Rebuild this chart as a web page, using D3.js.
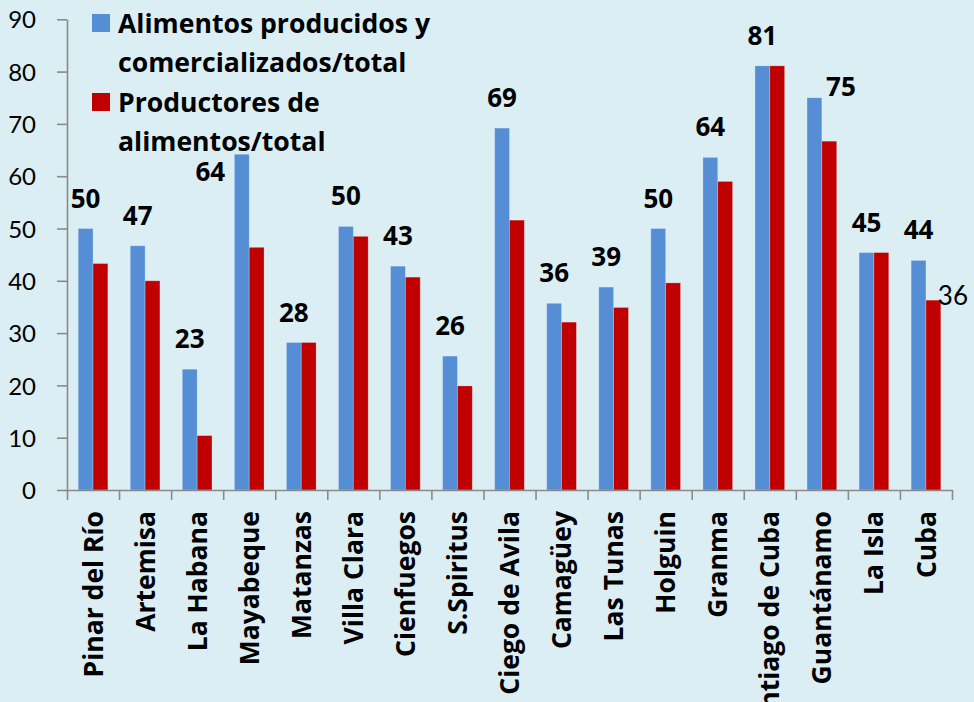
<!DOCTYPE html>
<html>
<head>
<meta charset="utf-8">
<script src="https://cdn.jsdelivr.net/npm/d3@7"></script>
<style>
  html, body { margin: 0; padding: 0; background: #DBEEF4; }
  svg { display: block; }
</style>
</head>
<body>
<svg id="chart" width="974" height="702"></svg>
<script>
// ---- data ----
const categories = ["Pinar del Río", "Artemisa", "La Habana", "Mayabeque", "Matanzas", "Villa Clara",
  "Cienfuegos", "S.Spiritus", "Ciego de Avila", "Camagüey", "Las Tunas", "Holguin", "Granma",
  "Santiago de Cuba", "Guantánamo", "La Isla", "Cuba"];
const seriesNames = ["Alimentos producidos y comercializados/total", "Productores de alimentos/total"];
const legendLines = [["Alimentos producidos y", "comercializados/total"], ["Productores de", "alimentos/total"]];
const alimentos = [50.0, 46.7, 23.1, 64.2, 28.2, 50.4, 42.8, 25.6, 69.2, 35.7, 38.8, 50.0, 63.6, 81.1, 75.0, 45.4, 43.9];
const productores = [43.3, 40.0, 10.4, 46.4, 28.2, 48.5, 40.7, 19.9, 51.6, 32.1, 34.9, 39.6, 59.0, 81.1, 66.7, 45.4, 36.3];
const yTicks = [0, 10, 20, 30, 40, 50, 60, 70, 80, 90];

// ---- layout ----
const W = 974, H = 702;
const plotLeft = 67, plotRight = 952, plotTop = 19.3, plotBottom = 490;
const colors = ["#558ED5", "#C00000"];
const axisColor = "#8A8A8A";
const boldFont = "'Open Sans', 'Noto Sans', sans-serif";
const plainFont = "Lato, 'Open Sans', sans-serif";

const svg = d3.select("#chart");
svg.append("rect").attr("width", W).attr("height", H).attr("fill", "#DBEEF4");

const x = d3.scaleBand().domain(categories).range([plotLeft, plotRight]).padding(0);
const bw = x.bandwidth();
const xs = d3.scaleBand().domain([0, 1]).range([bw * 0.215, bw * 0.785]).padding(0);
const y = d3.scaleLinear().domain([0, 90]).range([plotBottom, plotTop]);

const rows = categories.map((c, i) => ({ c, v: [alimentos[i], productores[i]] }));

// bars
const g = svg.append("g");
rows.forEach(r => {
  r.v.forEach((v, s) => {
    g.append("rect")
      .attr("x", x(r.c) + xs(s))
      .attr("y", y(v))
      .attr("width", xs.bandwidth())
      .attr("height", y(0) - y(v))
      .attr("fill", colors[s])
      .attr("stroke", "rgba(255,255,255,0.3)")
      .attr("stroke-width", 0.8);
  });
});

// y axis
const yAxis = svg.append("g").attr("transform", `translate(${plotLeft},0)`)
  .call(d3.axisLeft(y).tickValues(yTicks).tickSize(10).tickSizeOuter(0).tickPadding(21));
yAxis.select(".domain").attr("stroke", axisColor).attr("stroke-width", 1.6);
yAxis.selectAll(".tick line").attr("stroke", axisColor).attr("stroke-width", 1.6);
yAxis.selectAll(".tick text")
  .attr("font-family", plainFont).attr("font-size", 24).attr("fill", "#000")
  .attr("dy", "0.36em");

// x axis (ticks at category boundaries)
const xb = d3.scaleLinear().domain([0, categories.length]).range([plotLeft, plotRight]);
const xAxis = svg.append("g").attr("transform", `translate(0,${plotBottom})`)
  .call(d3.axisBottom(xb).tickValues(d3.range(categories.length + 1)).tickSize(10).tickSizeOuter(0).tickFormat(""));
xAxis.select(".domain").attr("stroke", axisColor).attr("stroke-width", 1.6);
xAxis.selectAll(".tick line").attr("stroke", axisColor).attr("stroke-width", 1.6);

// category labels
const xLab = svg.append("g").attr("transform", `translate(0,${plotBottom})`)
  .call(d3.axisBottom(x).tickSize(0).tickPadding(0));
xLab.select(".domain").remove();
xLab.selectAll(".tick text")
  .attr("font-family", boldFont).attr("font-weight", 700).attr("font-size", 26.5).attr("fill", "#000")
  .attr("text-anchor", "end")
  .attr("y", 0).attr("x", 0).attr("dy", "0.36em")
  .attr("transform", "translate(0,21) rotate(-90)");

// data labels (blue series)
const labelShift = { "Mayabeque": [-31.5, 48], "Guantánamo": [26.5, 19] };
const fmt = d3.format(".0f");
rows.forEach(r => {
  const sh = labelShift[r.c] || [0, 0];
  svg.append("text")
    .attr("x", x(r.c) + xs(0) + xs.bandwidth() / 2 + sh[0])
    .attr("y", y(r.v[0]) - 21 + sh[1])
    .attr("text-anchor", "middle")
    .attr("font-family", boldFont).attr("font-weight", 700).attr("font-size", 26)
    .attr("fill", "#000")
    .text(fmt(r.v[0]));
});
// label for the red bar of Cuba
const last = rows[rows.length - 1];
svg.append("text")
  .attr("x", x(last.c) + xs(1) + xs.bandwidth() - 3)
  .attr("y", y(last.v[1]) + 5)
  .attr("text-anchor", "start")
  .attr("font-family", plainFont).attr("font-weight", 400).attr("font-size", 26)
  .attr("fill", "#000")
  .text(fmt(last.v[1]));

// legend
const lg = svg.append("g");
const legendRow = [14, 93];
legendLines.forEach((lines, s) => {
  lg.append("rect").attr("x", 92).attr("y", legendRow[s]).attr("width", 18).attr("height", 18).attr("fill", colors[s]);
  lines.forEach((t, k) => {
    lg.append("text")
      .attr("x", 118).attr("y", legendRow[s] + 18.5 + k * 39)
      .attr("font-family", boldFont).attr("font-weight", 700).attr("font-size", 26.6)
      .attr("fill", "#000")
      .text(t);
  });
});
</script>
</body>
</html>
